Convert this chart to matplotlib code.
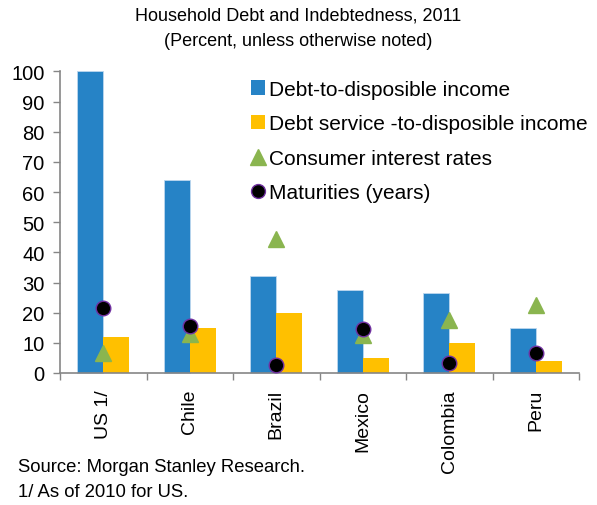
import matplotlib
matplotlib.use("Agg")
import matplotlib.pyplot as plt
import numpy as np
from matplotlib.lines import Line2D
from matplotlib.patches import Patch

plt.rcParams['font.family'] = ['Liberation Sans', 'DejaVu Sans']

countries = ["US 1/", "Chile", "Brazil", "Mexico", "Colombia", "Peru"]
debt_income = [100, 64, 32, 27.5, 26.5, 15]
debt_service = [12, 15, 20, 5, 10, 4]
interest_rates = [6.5, 13, 44.5, 12.5, 17.5, 22.5]
maturities = [21.5, 15.5, 2.5, 14.5, 3.3, 6.5]

BLUE = "#2683C6"
YELLOW = "#FFC000"
GREEN = "#8AB54F"
PURPLE = "#7030A0"
GRAY = "#868686"

fig = plt.figure(figsize=(5.97, 5.06), dpi=100)
ax = fig.add_axes([0.1005, 0.2609, 0.8695, 0.596])

x = np.arange(len(countries))
w = 0.3
ax.bar(x - w / 2, debt_income, w, color=BLUE, edgecolor="#BDD7EE", linewidth=0.6, clip_on=False)
ax.bar(x + w / 2, debt_service, w, color=YELLOW)
ax.plot(x, interest_rates, linestyle="none", marker="^", markersize=12,
        color=GREEN, markeredgecolor=GREEN, zorder=3)
ax.plot(x, maturities, linestyle="none", marker="o", markersize=10.5,
        color="black", markeredgecolor=PURPLE, markeredgewidth=1.0, zorder=4)

ax.set_xlim(-0.5, len(countries) - 0.5)
ax.set_ylim(0, 100)
ax.set_yticks(np.arange(0, 101, 10))
ax.set_xticks(x)
ax.set_xticklabels(countries, rotation=90, fontsize=14)
ax.set_xticks(np.arange(-0.5, len(countries)), minor=True)
ax.tick_params(axis="x", which="major", length=0, pad=11.5)
ax.tick_params(axis="x", which="minor", length=5, color=GRAY, width=1)
ax.tick_params(axis="y", length=5, color=GRAY, width=1, labelsize=14.5, pad=6)

for s in ["top", "right"]:
    ax.spines[s].set_visible(False)
for s in ["left", "bottom"]:
    ax.spines[s].set_color(GRAY)
    ax.spines[s].set_linewidth(1.2)

fig.text(0.5, 0.968, "Household Debt and Indebtedness, 2011", ha="center",
         va="center", fontsize=13)
fig.text(0.5, 0.918, "(Percent, unless otherwise noted)", ha="center",
         va="center", fontsize=13)

handles = [
    Patch(facecolor=BLUE, label="Debt-to-disposible income"),
    Patch(facecolor=YELLOW, label="Debt service -to-disposible income"),
    Line2D([], [], linestyle="none", marker="^", markersize=11, color=GREEN,
           label="Consumer interest rates"),
    Line2D([], [], linestyle="none", marker="o", markersize=10, color="black",
           markeredgecolor=PURPLE, label="Maturities (years)"),
]
fig.legend(handles=handles, loc="upper left", bbox_to_anchor=(0.42, 0.84),
           frameon=False, fontsize=15, handlelength=0.7, handleheight=0.7,
           handletextpad=0.2, labelspacing=0.74, borderpad=0, borderaxespad=0)

fig.text(0.03, 0.077, "Source: Morgan Stanley Research.", fontsize=13.3, va="center")
fig.text(0.03, 0.027, "1/ As of 2010 for US.", fontsize=13.3, va="center")

fig.savefig("out.png", dpi=100)
